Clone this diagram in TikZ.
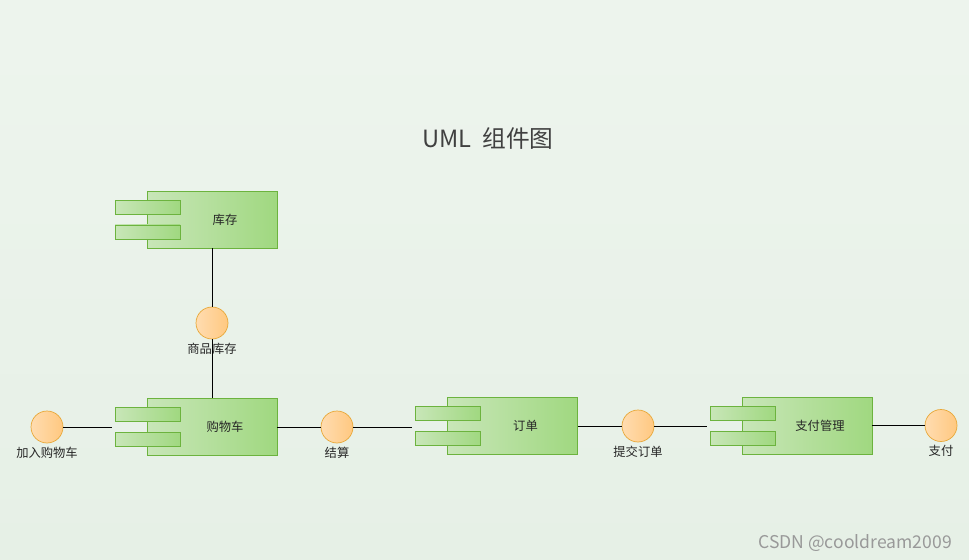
\documentclass[tikz,border=0pt]{standalone}
\usepackage{fontspec}
\setmainfont{Noto Sans CJK SC}
\usetikzlibrary{positioning}

\definecolor{bgcol}{HTML}{E6F0E6}
\definecolor{compline}{HTML}{6CB33E}
\definecolor{compA}{HTML}{C8E6B8}
\definecolor{compB}{HTML}{A0D880}
\definecolor{ifline}{HTML}{E8A838}
\definecolor{ifA}{HTML}{FFDCB0}
\definecolor{ifB}{HTML}{FFC880}

\tikzset{
  comp/.style={draw=compline, left color=compA, right color=compB, minimum width=2.6cm, minimum height=1.14cm, inner sep=0pt, font=\fontsize{7}{8}\selectfont, text=black!85},
  tab/.style={draw=compline, left color=compA, right color=compB, minimum width=1.3cm, minimum height=0.28cm, inner sep=0pt},
  iface/.style={circle, draw=ifline, left color=ifA, right color=ifB, minimum size=0.64cm, inner sep=0pt},
  lbl/.style={font=\fontsize{7}{8}\selectfont, text=black!85},
  conn/.style={draw=black, line width=0.5pt}
}

% component with two tabs on its left side
\newcommand{\umlcomp}[4]{%
  \node[comp, text width=2.6cm, align=center] (#1) at (#2,#3) {\hspace*{0.52cm}#4};
  \node[tab, anchor=west] (#1t1) at ([xshift=-0.64cm,yshift=0.25cm]#1.west) {};
  \node[tab, anchor=west] (#1t2) at ([xshift=-0.64cm,yshift=-0.25cm]#1.west) {};
  \coordinate (#1in) at ([xshift=-0.7cm]#1.west);
}

\begin{document}
\begin{tikzpicture}[x=0.02cm, y=-0.02cm]
\fill[top color=bgcol!70!white, bottom color=bgcol] (0,0) rectangle (969,560);

\node[font=\fontsize{13.5}{15}\selectfont, text=black!75] (title) at (488,138) {UML\ \ 组件图};

\umlcomp{stock}{212}{219.5}{库存}
\umlcomp{cart}{212}{427}{购物车}
\umlcomp{order}{512.5}{426}{订单}
\umlcomp{pay}{807}{425.5}{支付管理}

\node[iface] (istock) at (212,323) {};
\node[lbl, below=-0.05cm of istock] (listock) {商品库存};
\node[iface] (icart) at (47,427) {};
\node[lbl, below=-0.05cm of icart] (licart) {加入购物车};
\node[iface] (icheck) at (337,427) {};
\node[lbl, below=-0.05cm of icheck] (licheck) {结算};
\node[iface] (isubmit) at (638,426) {};
\node[lbl, below=-0.05cm of isubmit] (lisubmit) {提交订单};
\node[iface] (ipay) at (941,425.5) {};
\node[lbl, below=-0.05cm of ipay] (lipay) {支付};

\draw[conn] (stock.south) -- (istock);
\draw[conn] (istock) -- (cart.north);
\draw[conn] (icart) -- (icart -| cartin);
\draw[conn] (cart.east) -- (icheck);
\draw[conn] (icheck) -- (icheck -| orderin);
\draw[conn] (order.east) -- (isubmit);
\draw[conn] (isubmit) -- (isubmit -| payin);
\draw[conn] (pay.east) -- (ipay);

\node[font=\fontsize{10}{11}\selectfont, text=black!40] (mark) at (855,543) {CSDN @cooldream2009};
\end{tikzpicture}
\end{document}
